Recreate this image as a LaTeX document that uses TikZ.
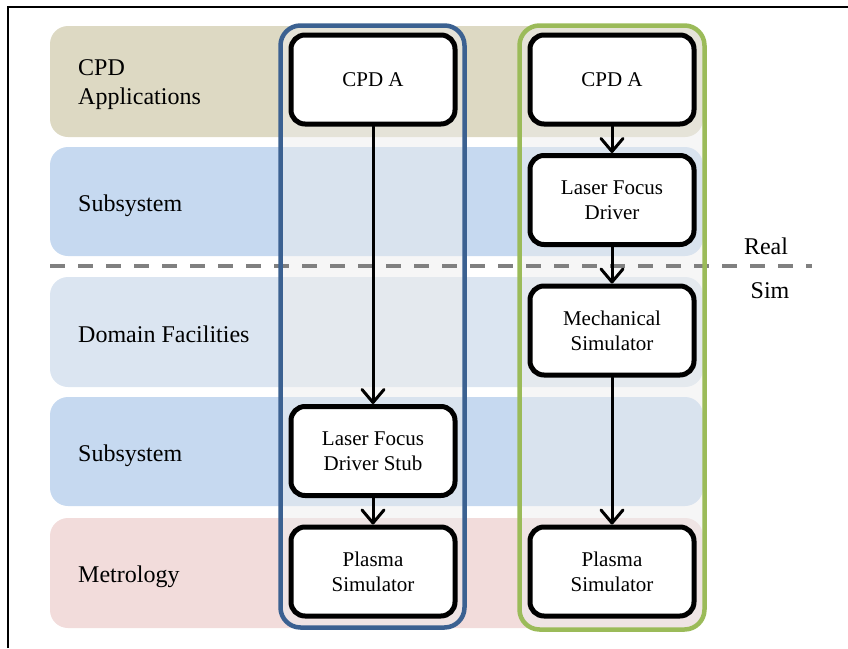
\documentclass[tikz,border=0pt]{standalone}
\usepackage{fontspec}
\setmainfont{Liberation Serif}
\usetikzlibrary{arrows.meta}

\definecolor{bandtan}{HTML}{DDD9C3}
\definecolor{bandblue}{HTML}{C6D9F0}
\definecolor{bandpale}{HTML}{DBE5F1}
\definecolor{bandrose}{HTML}{F2DCDB}
\definecolor{colfill}{HTML}{EDEDED}
\definecolor{colblue}{HTML}{3B6191}
\definecolor{colgreen}{HTML}{9BBB59}
\definecolor{divgray}{HTML}{808080}

\begin{document}
\begin{tikzpicture}[x=1pt,y=-1pt,
  band/.style={rounded corners=18pt},
  bandlabel/.style={anchor=west, align=left, inner sep=0pt,
    font=\fontsize{24}{29}\selectfont},
  sidelabel/.style={inner sep=0pt, font=\fontsize{24}{28}\selectfont},
  colback/.style={rounded corners=20pt, fill=colfill, fill opacity=0.5},
  colframe/.style={rounded corners=20pt, line width=4.5pt},
  block/.style={draw=black, fill=white, line width=5pt, rounded corners=14pt,
    minimum width=164pt, minimum height=89pt, inner sep=0pt, align=center,
    font=\fontsize{21}{25}\selectfont},
  flow/.style={line width=3pt, line cap=round,
    -{Straight Barb[length=13pt,width=22pt,line cap=round,line join=round]}},
  divider/.style={divgray, line width=4pt, dash pattern=on 15pt off 13pt},
]
\useasboundingbox (0,0) rectangle (848,648);

% outer frame
\draw[line width=1.8pt] (8,648) -- (8,7) -- (848,7);

% layer bands
\fill[band, bandtan]  (50,26)  rectangle (703,137);
\fill[band, bandblue] (50,147) rectangle (703,256);
\fill[band, bandpale] (50,277) rectangle (703,387);
\fill[band, bandblue] (50,397) rectangle (703,506);
\fill[band, bandrose] (50,518) rectangle (703,628);

% layer names
\node[bandlabel] (lblapp)  at (78,84.5)  {CPD\\Applications};
\node[bandlabel] (lblsub1) at (78,206)   {Subsystem};
\node[bandlabel] (lbldom)  at (78,334)   {Domain Facilities};
\node[bandlabel] (lblsub2) at (78,456)   {Subsystem};
\node[bandlabel] (lblmet)  at (78,577)   {Metrology};

% column backgrounds
\fill[colback] (280.5,25.5) rectangle (464.5,627.5);
\fill[colback] (519.5,25.5) rectangle (704.5,629.5);

% real / simulated divider
\coordinate (divL) at (50,266);
\coordinate (divR) at (812,266);
\draw[divider] (divL) -- (divR);
\node[sidelabel] (real) at (766,246) {Real};
\node[sidelabel] (sim)  at (770,291) {Sim};

% column frames
\draw[colframe, colblue]  (280.5,25.5) rectangle (464.5,627.5);
\draw[colframe, colgreen] (519.5,25.5) rectangle (704.5,629.5);

% left column
\node[block] (lcpd)    at (373,79.5)  {CPD A};
\node[block] (lstub)   at (373,451)   {Laser Focus\\Driver Stub};
\node[block] (lplasma) at (373,571.5) {Plasma\\Simulator};

% right column
\node[block] (rcpd)    at (612,79.5)  {CPD A};
\node[block] (rlfd)    at (612,200)   {Laser Focus\\Driver};
\node[block] (rmech)   at (612,330.5) {Mechanical\\Simulator};
\node[block] (rplasma) at (612,571.5) {Plasma\\Simulator};

% connectors
\draw[flow] (lcpd) -- (lstub);
\draw[flow] (lstub) -- (lplasma);
\draw[flow] (rcpd) -- (rlfd);
\draw[flow] (rlfd) -- (rmech);
\draw[flow] (rmech) -- (rplasma);
\end{tikzpicture}
\end{document}
